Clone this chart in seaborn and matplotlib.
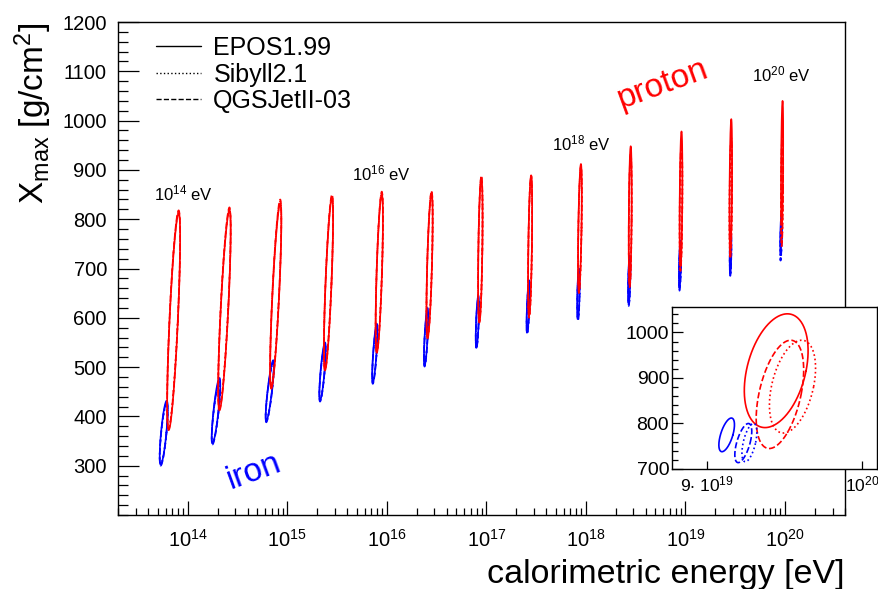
import numpy as np
import pandas as pd
import matplotlib
matplotlib.use("Agg")
import matplotlib.pyplot as plt
import seaborn as sns
from matplotlib.lines import Line2D
from matplotlib.ticker import MultipleLocator, LogLocator, NullFormatter, FixedLocator

# ---------------- data ----------------
primary_exp = [14.0, 14.5, 15.0, 15.5, 16.0, 16.5, 17.0, 17.5, 18.0, 18.5, 19.0, 19.5, 20.0]
models = ["EPOS1.99", "Sibyll2.1", "QGSJetII-03"]

# proton contours: log10(E_cal) at lowest / highest Xmax point, half width (decades)
p_logE_bot = [13.81, 14.32, 14.84, 15.38, 15.90, 16.41, 16.93, 17.43, 17.93, 18.44, 18.95, 19.45, 19.966]
p_logE_top = [13.91, 14.42, 14.93, 15.45, 15.95, 16.45, 16.95, 17.45, 17.95, 18.45, 18.96, 19.46, 19.975]
p_halfw = [0.042, 0.038, 0.034, 0.03, 0.027, 0.024, 0.02, 0.018, 0.016, 0.014, 0.013, 0.012, 0.01]
p_xlo_epos = [372, 412, 456, 493, 529, 558, 590, 605, 655, 668, 705, 735, 790]
p_xhi_epos = [812, 818, 832, 843, 850, 852, 884, 888, 912, 948, 978, 1003, 1040]
p_xlo_sib = [378, 418, 460, 497, 533, 562, 594, 602, 652, 664, 698, 725, 750]
p_xhi_sib = [815, 820, 836, 846, 853, 855, 886, 888, 905, 930, 950, 962, 980]
p_xlo_qgs = [375, 415, 458, 495, 531, 560, 592, 600, 650, 662, 695, 720, 745]
p_xhi_qgs = [818, 824, 840, 850, 856, 857, 888, 889, 908, 935, 955, 965, 982]

# iron contours
i_logE_bot = [13.73, 14.25, 14.79, 15.33, 15.86, 16.38, 16.90, 17.41, 17.92, 18.43, 18.94, 19.45, 19.955]
i_logE_top = [13.79, 14.32, 14.86, 15.38, 15.90, 16.41, 16.92, 17.43, 17.93, 18.44, 18.95, 19.455, 19.965]
i_halfw = [0.027, 0.025, 0.022, 0.02, 0.017, 0.015, 0.013, 0.012, 0.011, 0.01, 0.009, 0.008, 0.007]
i_xlo_epos = [302, 345, 390, 432, 468, 503, 539, 570, 598, 629, 660, 690, 738]
i_xhi_epos = [432, 478, 514, 550, 588, 620, 645, 676, 700, 726, 757, 781, 812]
i_xlo_sib = [304, 346, 391, 433, 469, 504, 540, 569, 596, 626, 657, 686, 714]
i_xhi_sib = [425, 470, 508, 544, 580, 614, 638, 668, 693, 718, 748, 772, 798]
i_xlo_qgs = [300, 343, 388, 430, 466, 501, 537, 567, 594, 624, 655, 685, 716]
i_xhi_qgs = [428, 472, 510, 546, 582, 616, 640, 670, 695, 720, 750, 775, 800]

# inset (10^20 eV): mean log10(E_cal), sigma, mean Xmax, sigma, correlation
ins_primary = ["proton", "proton", "proton", "iron", "iron", "iron"]
ins_model = ["EPOS1.99", "Sibyll2.1", "QGSJetII-03", "EPOS1.99", "Sibyll2.1", "QGSJetII-03"]
ins_mu_logE = [19.9747, 19.9795, 19.9758, 19.9601, 19.9668, 19.9650]
ins_sig_logE = [0.0094, 0.0068, 0.0070, 0.0023, 0.0022, 0.0025]
ins_mu_X = [916, 881, 864, 775, 758, 757]
ins_sig_X = [125, 102, 119, 37, 42, 43]
ins_rho = [0.35, 0.4, 0.45, 0.6, 0.55, 0.6]

annot_exp = [14, 16, 18, 20]

# ---------------- style ----------------
sns.set_theme(style="white")
plt.rcParams["font.family"] = ["Liberation Sans", "DejaVu Sans"]
plt.rcParams["mathtext.fontset"] = "custom"
plt.rcParams["mathtext.rm"] = "Liberation Sans"
plt.rcParams["mathtext.it"] = "Liberation Sans:italic"
plt.rcParams["mathtext.bf"] = "Liberation Sans:bold"
plt.rcParams["mathtext.default"] = "regular"
for key in ["text.color", "axes.labelcolor", "xtick.color", "ytick.color", "axes.edgecolor"]:
    plt.rcParams[key] = "black"

RED = "#ff0000"
BLUE = "#0000ff"
styles = {"EPOS1.99": "-", "Sibyll2.1": ":", "QGSJetII-03": "--"}
t = np.linspace(0, 2 * np.pi, 240)


def loop_df(xb, xt, w, yb, yt):
    mx = 0.5 * (xb + xt)
    h = 0.5 * (xt - xb)
    my = 0.5 * (yb + yt)
    sy = 0.5 * (yt - yb)
    lx = mx - h * np.sin(t) + w * np.cos(t)
    y = my - sy * np.sin(t)
    return pd.DataFrame({"E": 10 ** lx, "Xmax": y})


def gauss_df(mx, sx, my, sy, rho):
    h = rho * sx
    w = sx * np.sqrt(1 - rho ** 2)
    lx = mx + h * np.sin(t) + w * np.cos(t)
    y = my + sy * np.sin(t)
    return pd.DataFrame({"E": 10 ** lx, "Xmax": y})


fig = plt.figure(figsize=(8.79, 5.89), dpi=100)
ax = fig.add_axes([118 / 879, 1 - 515 / 589, 727 / 879, 493 / 589])
ax.set_xscale("log")

p_lo = {"EPOS1.99": p_xlo_epos, "Sibyll2.1": p_xlo_sib, "QGSJetII-03": p_xlo_qgs}
p_hi = {"EPOS1.99": p_xhi_epos, "Sibyll2.1": p_xhi_sib, "QGSJetII-03": p_xhi_qgs}
i_lo = {"EPOS1.99": i_xlo_epos, "Sibyll2.1": i_xlo_sib, "QGSJetII-03": i_xlo_qgs}
i_hi = {"EPOS1.99": i_xhi_epos, "Sibyll2.1": i_xhi_sib, "QGSJetII-03": i_xhi_qgs}

for k in range(len(primary_exp)):
    for m in models:
        d = loop_df(i_logE_bot[k], i_logE_top[k], i_halfw[k], i_lo[m][k], i_hi[m][k])
        sns.lineplot(data=d, x="E", y="Xmax", sort=False, estimator=None, color=BLUE,
                     linestyle=styles[m], lw=1.2, ax=ax)
    for m in models:
        d = loop_df(p_logE_bot[k], p_logE_top[k], p_halfw[k], p_lo[m][k], p_hi[m][k])
        sns.lineplot(data=d, x="E", y="Xmax", sort=False, estimator=None, color=RED,
                     linestyle=styles[m], lw=1.2, ax=ax)

ax.set_xlim(2e13, 4e20)
ax.set_ylim(200, 1200)
xt_major = [10.0 ** e for e in range(14, 21)]
ax.xaxis.set_major_locator(FixedLocator(xt_major))
ax.set_xticklabels([f"$10^{{{e}}}$" for e in range(14, 21)])
ax.xaxis.set_minor_locator(LogLocator(base=10, subs=np.arange(2, 10), numticks=50))
ax.xaxis.set_minor_formatter(NullFormatter())
ax.yaxis.set_major_locator(FixedLocator(list(range(300, 1201, 100))))
ax.yaxis.set_minor_locator(MultipleLocator(20))
ax.tick_params(axis="y", which="major", direction="in", length=15, width=0.9,
               left=True, right=False, labelsize=14.5, pad=8)
ax.tick_params(axis="y", which="minor", direction="in", length=7.5, width=0.9, left=True, right=False)
ax.tick_params(axis="x", which="major", direction="in", length=10, width=0.9,
               bottom=True, top=False, labelsize=14.5, pad=10)
ax.tick_params(axis="x", which="minor", direction="in", length=5, width=0.9, bottom=True, top=False)
for s in ax.spines.values():
    s.set_color("black")
    s.set_linewidth(1.0)

ax.set_xlabel("calorimetric energy [eV]", loc="right", fontsize=24.5, labelpad=6)
ax.set_ylabel("X$_{max}$ [g/cm$^{2}$]", loc="top", fontsize=24, labelpad=6)

# energy annotations
annot_xy = {14: (9.1e13, 852), 16: (8.8e15, 893), 18: (9.1e17, 954), 20: (9.1e19, 1094)}
for e in annot_exp:
    xx, yy = annot_xy[e]
    ax.text(xx, yy, f"$10^{{{e}}}$ eV", fontsize=12, ha="center", va="center")

ax.text(5.95e18, 1074, "proton", color=RED, fontsize=24, rotation=20, ha="center", va="center")
ax.text(4.6e14, 288, "iron", color=BLUE, fontsize=24, rotation=20, ha="center", va="center")

handles = [Line2D([0], [0], color="black", lw=1.0, linestyle=styles[m]) for m in models]
leg = ax.legend(handles, models, loc="upper left", bbox_to_anchor=(0.028, 1.007), frameon=False,
                fontsize=18, handlelength=1.8, handletextpad=0.5, labelspacing=0.1,
                borderaxespad=0.3)
for txt in leg.get_texts():
    txt.set_color("black")

# ---------------- inset ----------------
ax2 = fig.add_axes([672 / 879, 1 - 469 / 589, 205 / 879, 162 / 589])
ax2.set_facecolor("white")
ax2.set_xscale("log")
for k in range(len(ins_model)):
    c = RED if ins_primary[k] == "proton" else BLUE
    d = gauss_df(ins_mu_logE[k], ins_sig_logE[k], ins_mu_X[k], ins_sig_X[k], ins_rho[k])
    sns.lineplot(data=d, x="E", y="Xmax", sort=False, estimator=None, color=c,
                 linestyle=styles[ins_model[k]], lw=1.2, ax=ax2)
ax2.set_xlim(8.79e19, 1.0102e20)
ax2.set_ylim(700, 1056)
ax2.xaxis.set_major_locator(FixedLocator([9e19, 1e20]))
ax2.set_xticklabels(["9$\\cdot$ $10^{19}$", "$10^{20}$"])
ax2.xaxis.set_minor_locator(FixedLocator([]))
ax2.xaxis.set_minor_formatter(NullFormatter())
ax2.yaxis.set_major_locator(FixedLocator([700, 800, 900, 1000]))
ax2.yaxis.set_minor_locator(MultipleLocator(20))
ax2.tick_params(axis="y", which="major", direction="in", length=8, width=0.9,
                left=True, right=False, labelsize=14, pad=2)
ax2.tick_params(axis="y", which="minor", direction="in", length=4, width=0.9, left=True, right=False)
ax2.tick_params(axis="x", which="major", direction="in", length=6, width=0.9,
                bottom=True, top=False, labelsize=12.5, pad=4)
for s in ax2.spines.values():
    s.set_color("black")
    s.set_linewidth(1.0)
ax2.set_xlabel("")
ax2.set_ylabel("")

fig.savefig("out.png", dpi=100)
